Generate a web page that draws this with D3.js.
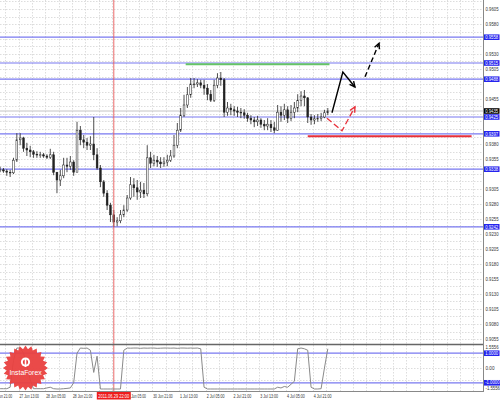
<!DOCTYPE html>
<html><head><meta charset="utf-8">
<script src="https://cdn.jsdelivr.net/npm/d3@7"></script>
<style>html,body{margin:0;padding:0;background:#fff}svg{display:block}</style>
</head><body>
<script>
// ---------- DATA ----------
const barStart = "2011-06-27T02:00:00Z"; // first 2-hour bar
const closes = [0.9337,0.9335,0.9333,0.9332,0.9353,0.9387,0.9390,0.9373,0.9370,0.9367,
0.9363,0.9362,0.9362,0.9360,0.9358,0.9362,0.9333,0.9320,0.9327,0.9345,
0.9343,0.9350,0.9333,0.9403,0.9387,0.9383,0.9378,0.9380,0.9362,0.9340,
0.9317,0.9298,0.9278,0.9262,0.9250,0.9252,0.9262,0.9270,0.9290,0.9312,
0.9307,0.9300,0.9303,0.9297,0.9357,0.9348,0.9353,0.9350,0.9347,0.9350,
0.9353,0.9360,0.9378,0.9403,0.9428,0.9445,0.9462,0.9480,0.9480,0.9482,
0.9478,0.9473,0.9463,0.9453,0.9478,0.9490,0.9487,0.9433,0.9440,0.9437,
0.9435,0.9433,0.9432,0.9428,0.9423,0.9420,0.9417,0.9420,0.9413,0.9410,
0.9413,0.9407,0.9403,0.9433,0.9428,0.9437,0.9423,0.9433,0.9440,0.9453,
0.9460,0.9457,0.9425,0.9420,0.9422,0.9423,0.9425,0.9432,0.9435];
const highs = [0.9342,0.9340,0.9338,0.9337,0.9357,0.9398,0.9398,0.9392,0.9382,0.9377,
0.9370,0.9368,0.9367,0.9365,0.9363,0.9372,0.9367,0.9333,0.9337,0.9357,
0.9357,0.9360,0.9353,0.9417,0.9410,0.9395,0.9390,0.9393,0.9425,0.9373,
0.9345,0.9320,0.9303,0.9282,0.9270,0.9258,0.9270,0.9278,0.9295,0.9325,
0.9323,0.9320,0.9317,0.9315,0.9378,0.9367,0.9362,0.9360,0.9358,0.9358,
0.9362,0.9370,0.9395,0.9415,0.9440,0.9462,0.9475,0.9490,0.9490,0.9488,
0.9487,0.9487,0.9480,0.9470,0.9487,0.9498,0.9500,0.9490,0.9450,0.9447,
0.9443,0.9442,0.9440,0.9438,0.9432,0.9428,0.9425,0.9427,0.9423,0.9420,
0.9423,0.9420,0.9417,0.9445,0.9443,0.9447,0.9443,0.9445,0.9450,0.9463,
0.9468,0.9470,0.9458,0.9430,0.9428,0.9430,0.9432,0.9437,0.9440];
const lows = [0.9333,0.9332,0.9327,0.9325,0.9330,0.9350,0.9378,0.9367,0.9360,0.9358,
0.9357,0.9357,0.9357,0.9357,0.9355,0.9355,0.9328,0.9298,0.9310,0.9323,
0.9333,0.9337,0.9327,0.9333,0.9378,0.9373,0.9370,0.9370,0.9353,0.9337,
0.9308,0.9292,0.9270,0.9250,0.9242,0.9243,0.9248,0.9258,0.9267,0.9287,
0.9292,0.9287,0.9290,0.9290,0.9293,0.9340,0.9343,0.9342,0.9340,0.9342,
0.9343,0.9350,0.9357,0.9373,0.9400,0.9425,0.9440,0.9457,0.9473,0.9475,
0.9473,0.9462,0.9453,0.9450,0.9450,0.9473,0.9477,0.9425,0.9427,0.9428,
0.9427,0.9425,0.9423,0.9422,0.9417,0.9413,0.9408,0.9410,0.9407,0.9403,
0.9403,0.9400,0.9398,0.9402,0.9417,0.9420,0.9415,0.9418,0.9423,0.9433,
0.9443,0.9443,0.9415,0.9412,0.9413,0.9417,0.9418,0.9423,0.9428];
const osc = [-1.40,-1.40,-1.40,-1.30,0.50,1.35,1.35,1.00,0.20,-0.80,
-1.40,-1.40,-1.40,-1.40,-1.35,-1.30,-1.40,-1.42,-1.42,-1.40,
-1.38,-1.35,-1.00,1.00,1.35,1.33,1.35,1.20,-0.30,0.80,
-1.42,-1.42,-1.42,-1.42,-1.42,-1.42,-1.42,1.20,1.35,1.34,
1.35,1.35,1.33,1.35,1.34,1.35,1.35,1.33,1.34,1.35,
1.35,1.34,1.35,1.33,1.35,1.35,1.34,1.35,1.34,1.35,
1.30,-1.30,-1.42,-1.42,-1.42,-1.42,-1.42,-1.42,-1.42,-1.42,
-1.42,-1.42,-1.42,-1.42,-1.42,-1.42,-1.42,-1.42,-1.42,-1.42,
-1.42,-1.42,-1.42,-1.30,-1.35,-1.25,-1.30,-1.10,-0.90,1.30,
1.35,1.30,1.20,-1.30,-1.42,-1.42,-1.40,0.00,1.30];

const priceTicks = [0.9055,0.9080,0.9105,0.9130,0.9155,0.9180,0.9205,0.9230,0.9255,0.9280,0.9305,0.9330,
0.9355,0.9380,0.9405,0.9430,0.9455,0.9480,0.9505,0.9530,0.9555,0.9580,0.9605];
const levels = [0.9558,0.9515,0.9488,0.9425,0.9397,0.9338,0.9242];
const currentPrice = 0.9435;
const greenLine = {from:"2011-07-01T17:00:00Z", to:"2011-07-05T07:00:00Z", price:0.9513};
const redLine = {from:"2011-07-04T18:00:00Z", to:"2011-07-08T20:00:00Z", price:0.9393};
const timeTicks = ["2011-06-26T21:00:00Z","2011-06-27T13:00:00Z","2011-06-28T05:00:00Z","2011-06-28T21:00:00Z",
"2011-06-30T05:00:00Z","2011-06-30T21:00:00Z","2011-07-01T13:00:00Z","2011-07-02T05:00:00Z",
"2011-07-02T21:00:00Z","2011-07-03T13:00:00Z","2011-07-04T05:00:00Z","2011-07-04T21:00:00Z"];
const timeTickLabels = ["26 Jun 21:00","27 Jun 13:00","28 Jun 05:00","28 Jun 21:00","30 Jun 05:00",
"30 Jun 21:00","1 Jul 13:00","2 Jul 05:00","2 Jul 21:00","3 Jul 13:00","4 Jul 05:00","4 Jul 21:00"];
const markerTime = "2011-06-29T22:00:00Z";
const markerLabel = "2011.06.29 22:00";
const blackArrow = [["2011-07-05T08:30:00Z",0.9432],["2011-07-05T15:00:00Z",0.9500],["2011-07-05T22:15:00Z",0.9475]];
const blackDashed = [["2011-07-06T04:15:00Z",0.9492],["2011-07-06T12:40:00Z",0.9548]];
const redArrow = [["2011-07-05T05:30:00Z",0.9423],["2011-07-05T14:30:00Z",0.9402],["2011-07-05T22:15:00Z",0.9442]];
const oscTicks = [1.5556, 0, -1.5556];
const oscTickLabels = ["1.5556","0.00","-1.5556"];
const oscLevels = [1.0, -1.0];
const oscLevelLabels = ["1.0000","-1.0000"];

// ---------- LAYOUT ----------
const W=500,H=400, plotR=483, mainBot=344, oscTop=345, oscBot=391;
const FONT = "'Liberation Sans', Arial, sans-serif";
const svg = d3.select("body").append("svg").attr("width",W).attr("height",H);
const t0 = new Date("2011-06-28T21:00:00Z");
const x = d3.scaleUtc().domain([t0, new Date(+t0 + 16*3600e3)]).range([72, 98.75]);
const y = d3.scaleLinear().domain([0.9055,0.9605]).range([339,9]);
const yo = d3.scaleLinear().domain([-1.5556,1.5556]).range([oscBot,oscTop]);

const bars = closes.map((c,i)=>({t:new Date(+new Date(barStart)+i*2*3600e3), o: i?closes[i-1]:c, h:highs[i], l:lows[i], c}));

const defs = svg.append("defs");
defs.append("clipPath").attr("id","mc").append("rect").attr("x",0).attr("y",0).attr("width",plotR).attr("height",mainBot);
defs.append("clipPath").attr("id","oc").append("rect").attr("x",0).attr("y",oscTop).attr("width",plotR).attr("height",oscBot-oscTop);

// grid
const g = svg.append("g");
const half = (priceTicks[1]-priceTicks[0])/2;
const gridPrices = priceTicks.flatMap(p=>[p, p+half]);
g.selectAll(".hg").data(gridPrices).join("line").attr("x1",0).attr("x2",plotR)
 .attr("y1",d=>Math.round(y(d))+0.5).attr("y2",d=>Math.round(y(d))+0.5)
 .attr("stroke","#d4d4d4").attr("stroke-width",0.8).attr("stroke-dasharray","1.5,1.5");
const tickDates = timeTicks.map(d=>new Date(d));
const firstTick = tickDates[0];
const gridTimes = d3.range(0, 40).map(k=>new Date(+firstTick + k*8*3600e3));
g.selectAll(".vg").data(gridTimes.filter(d=>x(d)>0 && x(d)<plotR)).join("line")
 .attr("x1",d=>Math.round(x(d))+0.5).attr("x2",d=>Math.round(x(d))+0.5).attr("y1",0).attr("y2",oscBot)
 .attr("stroke","#d4d4d4").attr("stroke-width",0.8).attr("stroke-dasharray","1.5,1.5");
g.selectAll(".og").data([0.7778,0,-0.7778]).join("line").attr("x1",0).attr("x2",plotR)
 .attr("y1",d=>Math.round(yo(d))+0.5).attr("y2",d=>Math.round(yo(d))+0.5)
 .attr("stroke","#d4d4d4").attr("stroke-width",0.8).attr("stroke-dasharray","1.5,1.5");

// level lines
const mainG = svg.append("g").attr("clip-path","url(#mc)");
mainG.append("line").attr("x1",0).attr("x2",plotR).attr("y1",y(currentPrice)).attr("y2",y(currentPrice))
 .attr("stroke","#c4c4c4").attr("stroke-width",1);
mainG.selectAll(".lv").data(levels).join("line").attr("x1",0).attr("x2",plotR)
 .attr("y1",d=>y(d)).attr("y2",d=>y(d)).attr("stroke","#7878f0").attr("stroke-width",1.2);
mainG.append("line").attr("x1",x(new Date(greenLine.from))).attr("x2",x(new Date(greenLine.to)))
 .attr("y1",y(greenLine.price)).attr("y2",y(greenLine.price)).attr("stroke","#66c466").attr("stroke-width",2);
mainG.append("line").attr("x1",x(new Date(redLine.from))).attr("x2",x(new Date(redLine.to)))
 .attr("y1",y(redLine.price)).attr("y2",y(redLine.price)).attr("stroke","#e8303a").attr("stroke-width",2);

// marker vertical line
svg.append("line").attr("x1",x(new Date(markerTime))).attr("x2",x(new Date(markerTime))).attr("y1",0).attr("y2",oscBot)
 .attr("stroke","#e85a5a").attr("stroke-width",0.9);

// candles
const bw = 1.8;
const cg = mainG.append("g");
cg.selectAll(".wk").data(bars).join("line").attr("x1",d=>x(d.t)).attr("x2",d=>x(d.t))
 .attr("y1",d=>y(Math.max(d.h,d.o,d.c))).attr("y2",d=>y(Math.min(d.l,d.o,d.c))).attr("stroke","#222").attr("stroke-width",0.8);
cg.selectAll(".bd").data(bars).join("rect").attr("x",d=>x(d.t)-bw/2).attr("width",bw)
 .attr("y",d=>y(Math.max(d.o,d.c))).attr("height",d=>Math.max(0.8,Math.abs(y(d.o)-y(d.c))))
 .attr("fill",d=>d.c>=d.o?"#fff":"#222").attr("stroke","#222").attr("stroke-width",0.5);

// arrows
function arrowHead(sel, p1, p2, color, len){
  const a = Math.atan2(p2[1]-p1[1], p2[0]-p1[0]);
  const pts = [[p2[0]-len*Math.cos(a-0.45), p2[1]-len*Math.sin(a-0.45)], p2, [p2[0]-len*Math.cos(a+0.45), p2[1]-len*Math.sin(a+0.45)]];
  sel.append("path").attr("d",d3.line()(pts)).attr("fill","none").attr("stroke",color).attr("stroke-width",1.4);
}
const ptsOf = arr => arr.map(d=>[x(new Date(d[0])), y(d[1])]);
const ag = svg.append("g");
const bA = ptsOf(blackArrow);
ag.append("path").attr("d",d3.line()(bA)).attr("fill","none").attr("stroke","#000").attr("stroke-width",1.4);
arrowHead(ag,bA[1],bA[2],"#000",6);
const bD = ptsOf(blackDashed);
ag.append("path").attr("d",d3.line()(bD)).attr("fill","none").attr("stroke","#000").attr("stroke-width",1.4).attr("stroke-dasharray","5,3");
arrowHead(ag,bD[0],bD[1],"#000",6);
const rA = ptsOf(redArrow);
ag.append("path").attr("d",d3.line()(rA)).attr("fill","none").attr("stroke","#e8303a").attr("stroke-width",1.3).attr("stroke-dasharray","6,3");
arrowHead(ag,rA[1],rA[2],"#e8303a",6);

// oscillator
const og = svg.append("g").attr("clip-path","url(#oc)");
og.selectAll(".ol").data(oscLevels).join("line").attr("x1",0).attr("x2",plotR)
 .attr("y1",d=>yo(d)).attr("y2",d=>yo(d)).attr("stroke","#7878f0").attr("stroke-width",1.2);
og.append("path").datum(bars.map((b,i)=>[x(b.t), yo(osc[i])])).attr("d",d3.line())
 .attr("fill","none").attr("stroke","#8a8a8a").attr("stroke-width",1);

// frames
svg.append("line").attr("x1",0).attr("x2",plotR).attr("y1",mainBot+0.5).attr("y2",mainBot+0.5).attr("stroke","#666").attr("stroke-width",1.5);
svg.append("line").attr("x1",0).attr("x2",plotR).attr("y1",oscBot+0.5).attr("y2",oscBot+0.5).attr("stroke","#888").attr("stroke-width",1);
svg.append("line").attr("x1",plotR+0.5).attr("x2",plotR+0.5).attr("y1",0).attr("y2",oscBot+1).attr("stroke","#888").attr("stroke-width",1);

// price axis labels (hidden where a level tag covers them, as in the source)
const fs = 4.8, LW = 13;
const tagYs = levels.concat([currentPrice]).map(v=>y(v));
svg.selectAll(".pl").data(priceTicks.filter(p=>tagYs.every(ty=>Math.abs(ty-y(p))>5)))
 .join("text").attr("x",plotR+2.5).attr("y",d=>y(d)+1.7)
 .attr("font-family",FONT).attr("font-size",fs).attr("fill","#333")
 .attr("textLength",LW).attr("lengthAdjust","spacingAndGlyphs").text(d=>d.toFixed(4));
function tag(yy, text, bg, fg, w){
  svg.append("rect").attr("x",plotR+1).attr("y",yy-2.8).attr("width",w+2.5).attr("height",5.6).attr("fill",bg);
  svg.append("text").attr("x",plotR+2.2).attr("y",yy+1.7).attr("font-family",FONT).attr("font-size",fs).attr("fill",fg)
   .attr("textLength",w).attr("lengthAdjust","spacingAndGlyphs").text(text);
}
levels.forEach(l=>tag(y(l), l.toFixed(4), "#2424ee", "#fff", LW));
tag(y(currentPrice), currentPrice.toFixed(4), "#000", "#fff", LW);

// osc labels
svg.selectAll(".otl").data(oscTicks).join("text").attr("x",plotR+2.5).attr("y",(d,i)=>yo(d)+(i===0?3.6:i===2?-0.6:1.7))
 .attr("font-family",FONT).attr("font-size",fs).attr("fill","#333")
 .attr("textLength",(d,i)=>[LW,9,14.5][i]).attr("lengthAdjust","spacingAndGlyphs").text((d,i)=>oscTickLabels[i]);
oscLevels.forEach((l,i)=>tag(yo(l), oscLevelLabels[i], "#2424ee", "#fff", i?14.3:LW));

// time axis
svg.selectAll(".tl").data(tickDates).join("text").attr("x",d=>x(d)+1).attr("y",397.5)
 .attr("font-family",FONT).attr("font-size",5).attr("fill","#333")
 .attr("textLength",(d,i)=>timeTickLabels[i].length*1.62).attr("lengthAdjust","spacingAndGlyphs")
 .text((d,i)=>timeTickLabels[i]);
const mx = x(new Date(markerTime));
svg.append("rect").attr("x",mx-17).attr("y",392).attr("width",34).attr("height",7.5).attr("fill","#ee1c1c");
svg.append("text").attr("x",mx-15.5).attr("y",397.6).attr("font-family",FONT).attr("font-size",5)
 .attr("textLength",31).attr("lengthAdjust","spacingAndGlyphs").attr("fill","#fff").text(markerLabel);

// InstaForex badge
const lg = svg.append("g").attr("transform","translate(25.5,368)");
const nPts = 48;
const star = d3.range(nPts).map(i=>[ (i%2?19:22.5), i/nPts*2*Math.PI ]);
lg.append("path").attr("d", d3.lineRadial().angle(d=>d[1]).radius(d=>d[0]).curve(d3.curveLinearClosed)(star))
 .attr("fill","#e9403f").attr("opacity",0.95);
lg.append("circle").attr("cx",0).attr("cy",-6).attr("r",4.6).attr("fill","#fff");
lg.append("circle").attr("cx",0).attr("cy",-6).attr("r",2.6).attr("fill","#e9403f");
lg.append("rect").attr("x",-0.8).attr("y",-9).attr("width",1.6).attr("height",8).attr("fill","#fff");
lg.append("text").attr("x",0).attr("y",7).attr("text-anchor","middle").attr("font-family",FONT)
 .attr("font-size",6.8).attr("fill","#fff").text("InstaForex");
</script>
</body></html>
